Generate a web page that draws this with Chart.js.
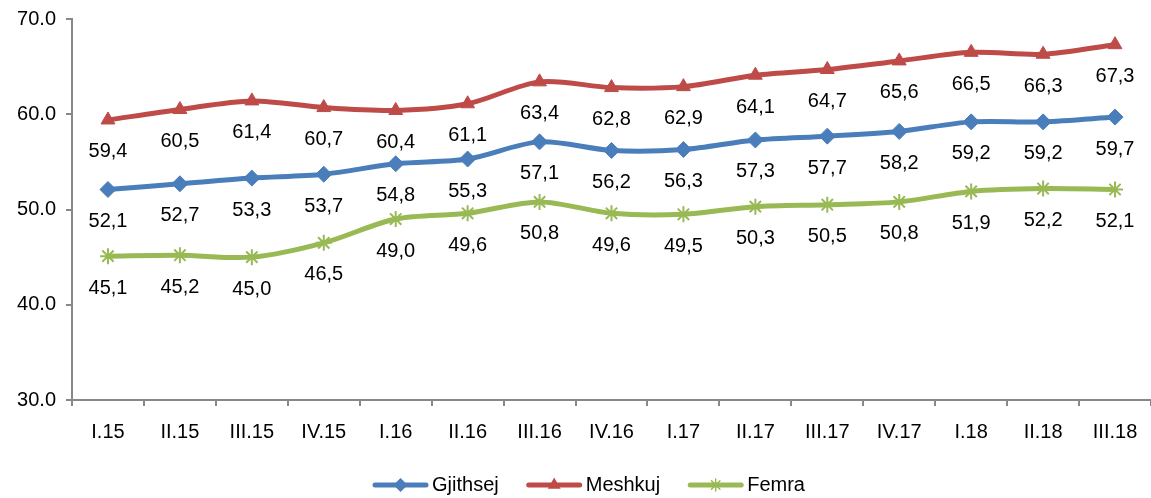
<!DOCTYPE html>
<html>
<head>
<meta charset="utf-8">
<script src="https://cdn.jsdelivr.net/npm/chart.js@4.4.0/dist/chart.umd.min.js"></script>
<style>
  html, body { margin: 0; padding: 0; background: #fff; }
  #wrap { width: 1151px; height: 498px; }
</style>
</head>
<body>
<div id="wrap"><canvas id="chart"></canvas></div>
<script>
const quarters = ['I.15', 'II.15', 'III.15', 'IV.15', 'I.16', 'II.16', 'III.16', 'IV.16',
  'I.17', 'II.17', 'III.17', 'IV.17', 'I.18', 'II.18', 'III.18'];
const gjithsej = [52.1, 52.7, 53.3, 53.7, 54.8, 55.3, 57.1, 56.2, 56.3, 57.3, 57.7, 58.2, 59.2, 59.2, 59.7];
const meshkuj = [59.4, 60.5, 61.4, 60.7, 60.4, 61.1, 63.4, 62.8, 62.9, 64.1, 64.7, 65.6, 66.5, 66.3, 67.3];
const femra = [45.1, 45.2, 45.0, 46.5, 49.0, 49.6, 50.8, 49.6, 49.5, 50.3, 50.5, 50.8, 51.9, 52.2, 52.1];
const yTicks = [30, 40, 50, 60, 70];

const FONT = '"Liberation Sans", Arial, sans-serif';

const series = [
  { label: 'Gjithsej', data: gjithsej, color: '#4A7EBB', style: 'rectRot', radius: 8 },
  { label: 'Meshkuj', data: meshkuj, color: '#BE4B48', style: 'triangle', radius: 8 },
  { label: 'Femra', data: femra, color: '#98B954', style: 'star', radius: 8 }
];

// numbers under each point, decimal comma
const valueLabels = {
  id: 'valueLabels',
  afterDatasetsDraw(chart) {
    const ctx = chart.ctx;
    ctx.save();
    ctx.font = '20px ' + FONT;
    ctx.fillStyle = '#000';
    ctx.textAlign = 'center';
    ctx.textBaseline = 'middle';
    chart.data.datasets.forEach((ds, i) => {
      chart.getDatasetMeta(i).data.forEach((pt, j) => {
        ctx.fillText(ds.data[j].toFixed(1).replace('.', ','), pt.x, pt.y + 32);
      });
    });
    ctx.restore();
  }
};

// Excel-like legend: short line with the marker on it, then the name
const lineLegend = {
  id: 'lineLegend',
  afterDraw(chart) {
    const ctx = chart.ctx;
    ctx.save();
    ctx.font = '20px ' + FONT;
    const lineW = 55, gapText = 4, gapItem = 28;
    const widths = chart.data.datasets.map(ds => lineW + gapText + ctx.measureText(ds.label).width);
    const total = widths.reduce((a, b) => a + b, 0) + gapItem * (widths.length - 1);
    let x = 589 - total / 2;
    const y = 485;
    chart.data.datasets.forEach((ds, i) => {
      ctx.strokeStyle = ds.borderColor;
      ctx.fillStyle = ds.borderColor;
      ctx.lineWidth = 5;
      ctx.lineCap = 'round';
      ctx.beginPath();
      ctx.moveTo(x + 2, y);
      ctx.lineTo(x + lineW - 2, y);
      ctx.stroke();
      ctx.lineWidth = 1.5;
      Chart.helpers.drawPoint(ctx, {
        pointStyle: ds.pointStyle,
        radius: 6,
        borderWidth: 1.5
      }, x + lineW / 2, y);
      ctx.fillStyle = '#000';
      ctx.textAlign = 'left';
      ctx.textBaseline = 'middle';
      ctx.fillText(ds.label, x + lineW + gapText, y);
      x += widths[i] + gapItem;
    });
    ctx.restore();
  }
};

new Chart(document.getElementById('chart'), {
  type: 'line',
  data: {
    labels: quarters,
    datasets: series.map(s => ({
      label: s.label,
      data: s.data,
      borderColor: s.color,
      backgroundColor: s.color,
      borderWidth: 5,
      tension: 0.3,
      pointStyle: s.style,
      pointRadius: s.radius,
      pointBorderWidth: s.style === 'star' ? 2 : 1,
      pointBorderColor: s.color,
      pointBackgroundColor: s.color
    }))
  },
  options: {
    responsive: true,
    maintainAspectRatio: false,
    animation: false,
    layout: { autoPadding: false, padding: { top: 19, right: 0, left: 0, bottom: 48 } },
    plugins: {
      tooltip: { enabled: false },
      legend: { display: false }
    },
    scales: {
      x: {
        offset: true,
        grid: { offset: true, drawOnChartArea: false, drawTicks: true, tickLength: 6, color: '#888', lineWidth: 2 },
        border: { color: '#888', width: 2 },
        ticks: { color: '#000', font: { family: FONT, size: 20 }, padding: 14, maxRotation: 0, autoSkip: false },
        afterFit(scale) {
          scale.height = 50;
          scale.paddingLeft = 0;
          scale.paddingRight = 0;
        }
      },
      y: {
        min: yTicks[0],
        max: yTicks[yTicks.length - 1],
        afterBuildTicks(scale) { scale.ticks = yTicks.map(v => ({ value: v })); },
        grid: { drawOnChartArea: false, drawTicks: true, tickLength: 6, color: '#888', lineWidth: 2 },
        border: { color: '#888', width: 2 },
        ticks: {
          color: '#000',
          font: { family: FONT, size: 20 },
          padding: 10,
          callback: v => Number(v).toFixed(1)
        },
        afterFit(scale) {
          scale.width = 72;
          scale.paddingTop = 0;
          scale.paddingBottom = 0;
        }
      }
    }
  },
  plugins: [valueLabels, lineLegend]
});
</script>
</body>
</html>
